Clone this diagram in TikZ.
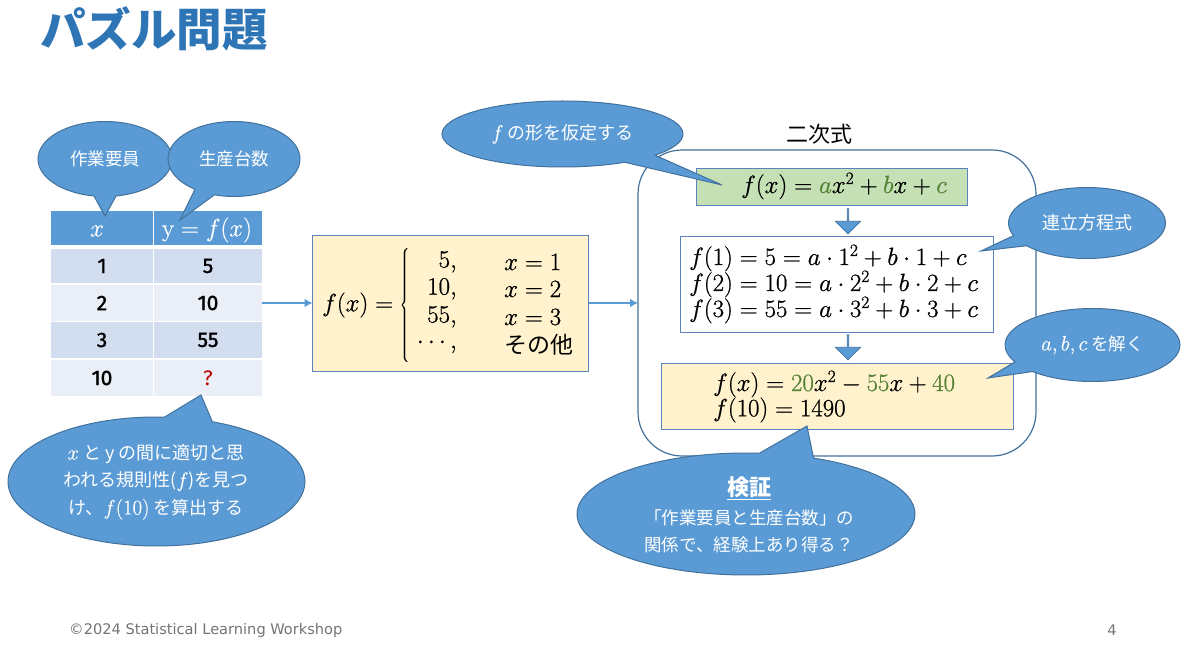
\documentclass[tikz,border=0pt]{standalone}
\usepackage[no-math]{fontspec}
\setmainfont{Noto Sans CJK JP}
\newfontfamily\numfont{Fira Sans}
\newfontfamily\footfont{DejaVu Sans}
\usetikzlibrary{shapes.callouts,shapes.arrows,shapes.geometric,arrows.meta}
\definecolor{accent}{HTML}{5B9BD5}
\definecolor{titleblue}{HTML}{2E75B6}
\definecolor{edgeblue}{HTML}{41719C}
\definecolor{boxedge}{HTML}{5B82BC}
\definecolor{cream}{HTML}{FFF2CC}
\definecolor{leaf}{HTML}{C5E0B4}
\definecolor{rowa}{HTML}{D2DEEF}
\definecolor{rowb}{HTML}{EAEFF7}
\definecolor{coef}{HTML}{548235}
\newcommand{\fs}[1]{\fontsize{#1}{#1}\selectfont}
\newcommand{\K}[1]{\textcolor{coef}{#1}}
\newcommand{\heavy}{\special{pdf:code 2 Tr 0.2 w}}
\newcommand{\wm}[1]{{\fs{21}\special{pdf:code 2 Tr 0.12 w}$#1$\special{pdf:code 0 Tr}}}
\tikzset{
  bubble/.style={ellipse callout,draw=edgeblue,fill=accent,line width=1pt,inner sep=0pt,outer sep=0pt,callout pointer arc=19},
  btext/.style={text=white,align=center,inner sep=0pt},
  cell/.style={inner sep=0pt,outer sep=0pt,text=black},
  mbox/.style={draw=boxedge,line width=0.9pt,inner sep=0pt,outer sep=0pt},
  mathl/.style={anchor=west,inner sep=0pt,font=\fs{23.7}\heavy},
  mathr/.style={anchor=east,inner sep=0pt,font=\fs{23.7}\heavy},
  flow/.style={draw=accent,line width=2.6pt,-{Latex[length=8pt,width=9pt]}},
  down/.style={single arrow,shape border rotate=270,draw=edgeblue,fill=accent,line width=0.7pt,inner sep=0pt,minimum width=25pt,minimum height=25pt,single arrow head extend=6pt},
}
\begin{document}
\begin{tikzpicture}[x=1pt,y=-1pt]
\useasboundingbox (0,0) rectangle (1200,647);
\node[anchor=west,inner sep=0pt,text=titleblue,font=\fs{45.5}\bfseries] (title) at (40,29) {パズル問題};
% table
\foreach \n/\cx/\w/\cy/\h/\c in {
 a0/102/102/228/34/accent, b0/208/108/228/34/accent,
 a1/102/102/266/34/rowa, b1/208/108/266/34/rowa,
 a2/102/102/303/36/rowb, b2/208/108/303/36/rowb,
 a3/102/102/340/36/rowa, b3/208/108/340/36/rowa,
 a4/102/102/378/36/rowb, b4/208/108/378/36/rowb}{
 \node[cell,fill=\c,minimum width=\w pt,minimum height=\h pt] (\n) at (\cx,\cy) {};
}
\node[text=white,font=\fs{23}\special{pdf:code 2 Tr 0.12 w},inner sep=0pt] at (97,231) {$x$};
\node[text=white,font=\fs{23}\special{pdf:code 2 Tr 0.12 w},inner sep=0pt] at (207,230) {$\mathrm{y}=f(x)$};
\foreach \n/\t in {a1/1,b1/5,a2/2,b2/10,a3/3,b3/55,a4/10}{
 \node[font=\numfont\fs{21}\special{pdf:code 2 Tr 0.3 w}] at (\n) {\t};
}
\node[font=\numfont\fs{21},text=red!75!black] at (b4) {?};
% formula box
\node[mbox,fill=cream,minimum width=276pt,minimum height=136pt] (fbox) at (450.5,303) {};
\node[mathl] (ftext) at (322,305) {$f(x)=\left\{\vcenter{\hbox{\rule{0pt}{115pt}}}\right.$};
\node[mathr] (c1) at (457,262) {$5,$};
\node[mathr] (c2) at (457,289) {$10,$};
\node[mathr] (c3) at (457,317) {$55,$};
\node[mathr] (c4) at (457,345) {$\cdots,$};
\node[mathl] (d1) at (504,262) {$x=1$};
\node[mathl] (d2) at (504,289) {$x=2$};
\node[mathl] (d3) at (504,317) {$x=3$};
\node[anchor=west,inner sep=0pt,font=\fs{23}] (d4) at (504,345) {その他};
% frame
\node[draw=edgeblue,line width=1.2pt,rounded corners=44pt,minimum width=398pt,minimum height=306pt,inner sep=0pt,outer sep=0pt] (frame) at (837,303) {};
\node[font=\fs{22},inner sep=0pt] (ftitle) at (819,134) {二次式};
\draw[flow] (b2.east) -- (fbox.west);
\draw[flow] (fbox.east) -- (frame.west);
% inner boxes
\node[mbox,fill=leaf,minimum width=271pt,minimum height=37pt] (green) at (831.5,186.5) {};
\node[mathl] (gt) at (741,186) {$f(x)=\K{a}x^2+\K{b}x+\K{c}$};
\node[mbox,fill=white,minimum width=313pt,minimum height=96pt] (sys) at (836.5,284) {};
\node[mathl] (s1) at (689,258) {$f(1)=5=a\cdot 1^2+b\cdot 1+c$};
\node[mathl] (s2) at (689,284) {$f(2)=10=a\cdot 2^2+b\cdot 2+c$};
\node[mathl] (s3) at (689,310) {$f(3)=55=a\cdot 3^2+b\cdot 3+c$};
\node[mbox,fill=cream,minimum width=352pt,minimum height=66pt] (res) at (837,396) {};
\node[mathl] (r1) at (713,384) {$f(x)=\K{20}x^2-\K{55}x+\K{40}$};
\node[mathl] (r2) at (713,410) {$f(10)=1490$};
\node[down] (ar1) at (848,221) {};
\node[down] (ar2) at (848,347) {};
% callouts
\node[bubble,minimum width=134pt,minimum height=75pt,callout absolute pointer={(105,216)}] (b-x) at (105,159) {};
\node[btext,font=\fs{17.5}] at (b-x) {作業要員};
\node[bubble,minimum width=132pt,minimum height=75pt,callout absolute pointer={(180,220)}] (b-y) at (234,159) {};
\node[btext,font=\fs{17.5}] at (b-y) {生産台数};
\node[bubble,minimum width=297pt,minimum height=129pt,callout absolute pointer={(201,395)}] (b-q) at (156.5,481.5) {};
\node[btext,font=\fs{18}] at (156,482) {\wm{x} と y の間に適切と思\\[7pt]われる規則性(\wm{f})を見つ\\[7pt]け、\wm{f(10)} を算出する};
\node[bubble,minimum width=241pt,minimum height=66pt,callout absolute pointer={(722,185)}] (b-f) at (562.5,134) {};
\node[btext,font=\fs{18}] at (b-f) {\wm{f} の形を仮定する};
\node[bubble,minimum width=157pt,minimum height=71pt,callout absolute pointer={(981,251)}] (b-s) at (1087,223) {};
\node[btext,font=\fs{18}] at (b-s) {連立方程式};
\node[bubble,minimum width=175pt,minimum height=73pt,callout absolute pointer={(988,378)}] (b-a) at (1092.5,345) {};
\node[btext,font=\fs{17.5}] at (b-a) {\wm{a,b,c} を解く};
\node[bubble,minimum width=338pt,minimum height=122pt,callout absolute pointer={(807,426)}] (b-v) at (746,514) {};
\node[btext,font=\fs{17.5}] at (749,515) {{\fs{22}\bfseries\underline{検証}}\\[9pt]「作業要員と生産台数」の\\[9pt]関係で、経験上あり得る？};
% footer
\node[anchor=west,inner sep=0pt,text=black!55,font=\footfont\fs{14.6}] (foot) at (69,630) {©2024 Statistical Learning Workshop};
\node[inner sep=0pt,text=black!55,font=\footfont\fs{14.6}] (page) at (1112,630) {4};
\end{tikzpicture}
\end{document}
